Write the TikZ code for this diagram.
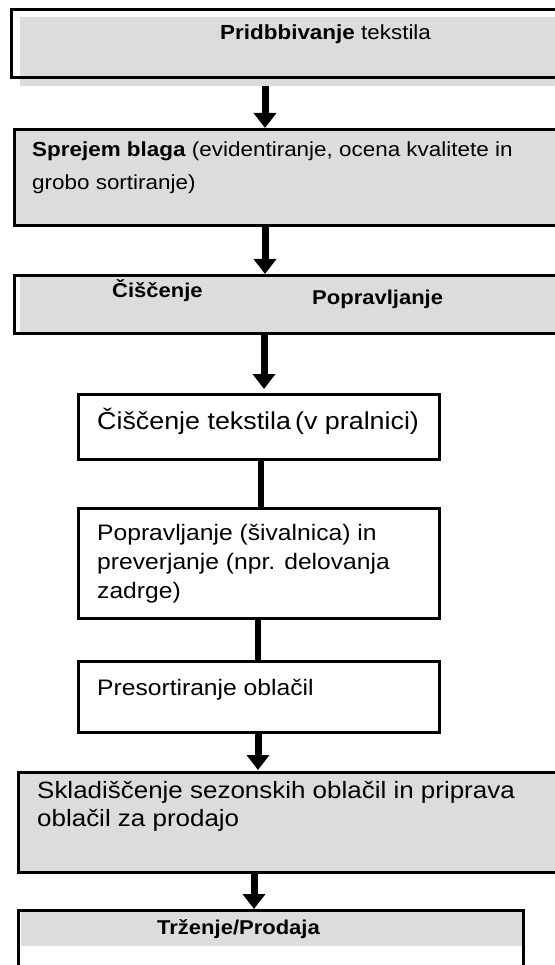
\documentclass[tikz,border=0pt]{standalone}
\usepackage{fontspec}
\setmainfont{Liberation Sans}[FakeStretch=1.1]
\usetikzlibrary{calc, arrows.meta, backgrounds}
\definecolor{boxgray}{RGB}{220,220,220}

\begin{document}
\begin{tikzpicture}[x=1pt, y=-1pt,
  box/.style={draw, line width=2.6pt, inner sep=0pt, anchor=north west},
  flow/.style={line width=7pt, -{Triangle[width=22pt, length=15pt]}},
  link/.style={line width=6.5pt},
  txt/.style={inner sep=0pt, anchor=base west, font=\fontsize{22.4}{27}\selectfont}]
\useasboundingbox (0,0) rectangle (554,965);
% steps
\node[box, minimum width=600pt, minimum height=68pt] (b1) at (10,8) {};
\node[box, minimum width=600pt, minimum height=96pt] (b2) at (13,128) {};
\node[box, minimum width=600pt, minimum height=58pt] (b3) at (13,274) {};
\node[box, minimum width=361pt, minimum height=65pt] (b4) at (77,393) {};
\node[box, minimum width=361pt, minimum height=110pt] (b5) at (77,507) {};
\node[box, minimum width=361pt, minimum height=71pt] (b6) at (77,660) {};
\node[box, minimum width=600pt, minimum height=100pt] (b7) at (17,771) {};
\node[box, minimum width=505pt, minimum height=100pt] (b8) at (17,909) {};
% gray fills
\begin{scope}[on background layer]
\fill[boxgray] ($(b1.north west)+(10,9)$) rectangle ($(b1.south east)+(0,7)$);
\fill[boxgray] (b2.north west) rectangle (b2.south east);
\fill[boxgray] ($(b3.north west)+(7,3)$) rectangle (b3.south east);
\fill[boxgray] (b7.north west) rectangle (b7.south east);
\fill[boxgray] ($(b8.north west)+(4,0)$) rectangle ($(b8.north east)+(0,37)$);
\end{scope}
% texts
\node[txt, font=\fontsize{20.4}{25}\selectfont] (t1) at (220,40) {\textbf{Pridbbivanje} tekstila};
\node[txt, font=\fontsize{20.4}{25}\selectfont] (t2a) at (32,157) {\textbf{Sprejem blaga} (evidentiranje, ocena kvalitete in};
\node[txt, font=\fontsize{20.4}{25}\selectfont] (t2b) at (32,190) {grobo sortiranje)};
\node[txt, font=\fontsize{20}{24}\selectfont\bfseries] (t3a) at (112,298) {Čiščenje};
\node[txt, font=\fontsize{20}{24}\selectfont\bfseries] (t3b) at (312,305) {Popravljanje};
\node[txt, font=\fontsize{24.4}{29}\selectfont] (t4) at (97,429) {Čiščenje tekstila\,(v pralnici)};
\node[txt] (t5a) at (97,540) {Popravljanje (šivalnica) in};
\node[txt] (t5b) at (97,569) {preverjanje (npr. delovanja};
\node[txt] (t5c) at (97,598) {zadrge)};
\node[txt] (t6) at (97,695) {Presortiranje oblačil};
\node[txt, font=\fontsize{23.6}{28}\selectfont] (t7a) at (37,798) {Skladiščenje sezonskih oblačil in priprava};
\node[txt, font=\fontsize{23.6}{28}\selectfont] (t7b) at (37,826) {oblačil za prodajo};
\node[txt, font=\fontsize{20}{24}\selectfont\bfseries] (t8) at (157,934) {Trženje/Prodaja};
% connectors
\coordinate (c1) at (265,0);
\coordinate (c2) at (265,0);
\coordinate (c3) at (264,0);
\coordinate (c4) at (261,0);
\coordinate (c5) at (258,0);
\coordinate (c6) at (254,0);
\draw[flow, shorten <=7pt] (b1.south -| c1) -- (b2.north -| c1);
\draw[flow] (b2.south -| c2) -- (b3.north -| c2);
\draw[flow, shorten >=4pt] (b3.south -| c3) -- (b4.north -| c3);
\draw[link] (b4.south -| c4) -- (b5.north -| c4);
\draw[link] (b5.south -| c5) -- (b6.north -| c5);
\draw[flow, shorten >=1pt] (b6.south -| c5) -- (b7.north -| c5);
\draw[flow] (b7.south -| c6) -- (b8.north -| c6);
\end{tikzpicture}
\end{document}
